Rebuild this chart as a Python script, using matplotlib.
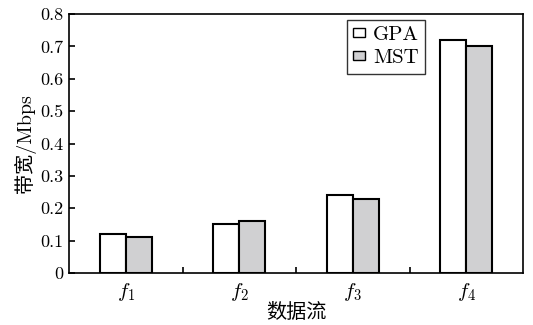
import numpy as np
import matplotlib.pyplot as plt
from matplotlib.ticker import FixedLocator

plt.rcParams['mathtext.fontset'] = 'cm'
plt.rcParams['axes.formatter.use_mathtext'] = True

flows = [r'$f_1$', r'$f_2$', r'$f_3$', r'$f_4$']
gpa = [0.12, 0.15, 0.24, 0.72]
mst = [0.11, 0.16, 0.23, 0.70]
yticks = [0, 0.1, 0.2, 0.3, 0.4, 0.5, 0.6, 0.7, 0.8]
ytick_labels = ['0', '0.1', '0.2', '0.3', '0.4', '0.5', '0.6', '0.7', '0.8']

serif_cjk = ['cmr10', 'Noto Sans CJK SC']

fig = plt.figure(figsize=(5.33, 3.25), dpi=100)
ax = fig.add_axes([69 / 533, 52 / 325, 454 / 533, 259 / 325])

x = np.arange(len(flows))
w = 0.23
ax.bar(x - w / 2, gpa, w, color='white', edgecolor='black', linewidth=1.5, label='GPA')
ax.bar(x + w / 2, mst, w, color='#d0d0d2', edgecolor='black', linewidth=1.5, label='MST')

ax.set_xlim(-0.5, 3.5)
ax.set_ylim(0, 0.8)
ax.set_xticks(x)
ax.set_xticklabels(flows, fontsize=15)
ax.xaxis.set_minor_locator(FixedLocator([0.5, 1.5, 2.5]))
ax.tick_params(axis='x', which='major', length=0, pad=6)
ax.tick_params(axis='x', which='minor', direction='in', length=4, width=1.2)
ax.set_yticks(yticks)
ax.set_yticklabels(ytick_labels, family='cmr10', fontsize=13)
ax.tick_params(axis='y', direction='in', length=4, width=1.2, pad=4)

for s in ax.spines.values():
    s.set_linewidth(1.2)

ax.set_ylabel('带宽/Mbps', family=serif_cjk, fontsize=14.5, labelpad=3)
ax.set_xlabel('数据流', family=serif_cjk, fontsize=14.5, labelpad=0)

leg = ax.legend(loc='upper left', bbox_to_anchor=(0.612, 0.977), borderaxespad=0,
                prop={'family': 'cmr10', 'size': 15}, fancybox=False, edgecolor='black',
                handlelength=0.55, handleheight=0.3, handletextpad=0.4,
                borderpad=0.3, labelspacing=0.25)
leg.get_frame().set_linewidth(1.0)
for h in leg.legend_handles:
    h.set_linewidth(1.0)

fig.savefig('out.png', dpi=100)
